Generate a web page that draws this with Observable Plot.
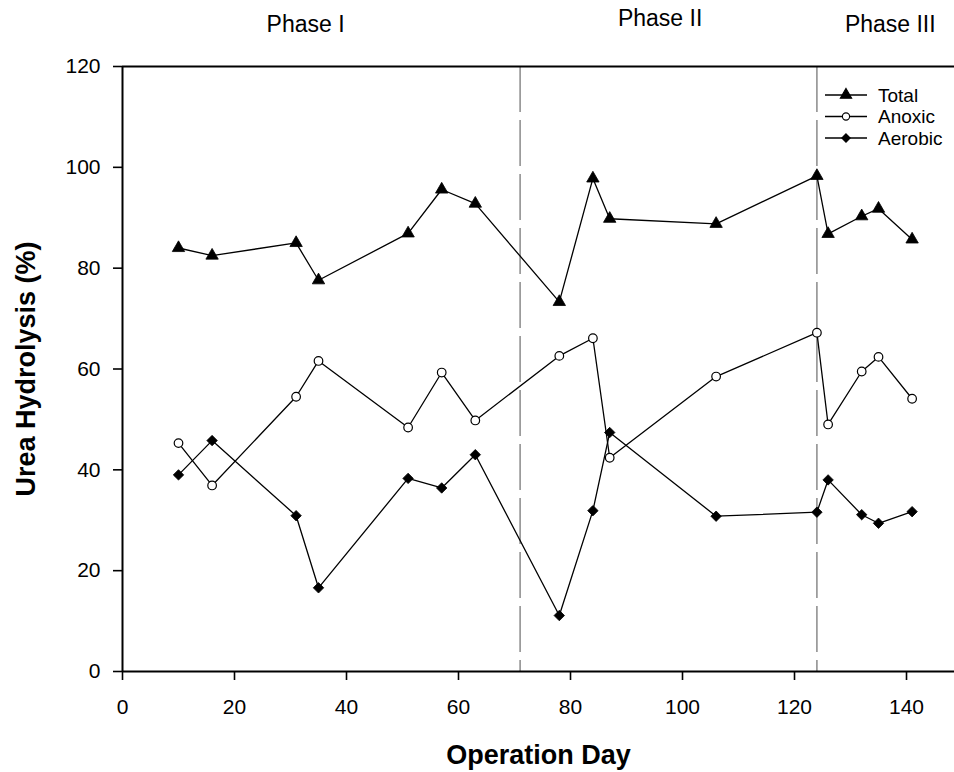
<!DOCTYPE html>
<html>
<head>
<meta charset="utf-8">
<script src="https://cdn.jsdelivr.net/npm/d3@7"></script>
<script src="https://cdn.jsdelivr.net/npm/@observablehq/plot@0.6"></script>
<style>
  html, body { margin: 0; padding: 0; background: #fff; }
  svg { display: block; }
</style>
</head>
<body>
<div id="chart"></div>
<script>
// ---- data ----
const days    = [10, 16, 31, 35, 51, 57, 63, 78, 84, 87, 106, 124, 126, 132, 135, 141];
const total   = [84.0, 82.5, 85.0, 77.6, 86.9, 95.6, 92.8, 73.3, 97.8, 89.8, 88.8, 98.3, 86.8, 90.3, 91.8, 85.7];
const anoxic  = [45.3, 36.9, 54.5, 61.6, 48.4, 59.3, 49.8, 62.6, 66.1, 42.4, 58.5, 67.2, 49.0, 59.5, 62.4, 54.1];
const aerobic = [39.0, 45.8, 30.9, 16.6, 38.3, 36.4, 43.0, 11.1, 31.9, 47.4, 30.8, 31.6, 38.0, 31.1, 29.4, 31.7];
const seriesNames = ["Total", "Anoxic", "Aerobic"];
const phaseBounds = [71, 124];
const phaseNames  = ["Phase I", "Phase II", "Phase III"];
const phaseX      = [32.7, 96.0, 137.1];
const phaseY      = [128.4, 129.5, 128.4];
const xTicks = [0, 20, 40, 60, 80, 100, 120, 140];
const yTicks = [0, 20, 40, 60, 80, 100, 120];

const FONT = "'Liberation Sans', Arial, Helvetica, sans-serif";

const rows = (vals) => days.map((d, i) => ({day: d, v: vals[i]}));
const T = rows(total), A = rows(anoxic), B = rows(aerobic);
const phases = phaseNames.map((n, i) => ({name: n, x: phaseX[i], y: phaseY[i]}));

const plot = Plot.plot({
  width: 954,
  height: 772,
  marginLeft: 122,
  marginRight: 0,
  marginTop: 66,
  marginBottom: 101,
  style: {fontFamily: FONT, color: "#000", background: "#fff", overflow: "visible"},
  x: {domain: [0, 148.57]},
  y: {domain: [0, 120]},
  marks: [
    Plot.ruleX(phaseBounds, {stroke: "#8a8a8a", strokeWidth: 1.5, strokeDasharray: "46,8"}),
    Plot.axisX({ticks: xTicks, tickSize: 9, tickPadding: 19, fontSize: 21, strokeWidth: 1.6, label: null, tickFormat: d => d}),
    Plot.axisY({ticks: yTicks, tickSize: 9, tickPadding: 13, fontSize: 21, strokeWidth: 1.6, label: null, tickFormat: d => d}),
    Plot.ruleX([0], {stroke: "#000", strokeWidth: 2}),
    Plot.ruleY([0], {stroke: "#000", strokeWidth: 2}),
    Plot.ruleY([120], {stroke: "#000", strokeWidth: 2}),
    Plot.line(T, {x: "day", y: "v", stroke: "#000", strokeWidth: 1.3}),
    Plot.line(A, {x: "day", y: "v", stroke: "#000", strokeWidth: 1.3}),
    Plot.line(B, {x: "day", y: "v", stroke: "#000", strokeWidth: 1.3}),
    Plot.dot(T, {x: "day", y: "v", symbol: "triangle", r: 4.6, fill: "#000", stroke: "#000", strokeWidth: 0.8}),
    Plot.dot(A, {x: "day", y: "v", symbol: "circle", r: 4.3, fill: "#fff", stroke: "#000", strokeWidth: 1.2}),
    Plot.dot(B, {x: "day", y: "v", symbol: "diamond2", r: 4.7, fill: "#000", stroke: "#000", strokeWidth: 0.8}),
    Plot.text(phases, {x: "x", y: "y", text: "name", fontSize: 23, fill: "#000", textAnchor: "middle", lineAnchor: "middle"}),
    Plot.text(["Operation Day"], {frameAnchor: "bottom", dy: 84, fontSize: 27, fontWeight: "bold", fill: "#000", textAnchor: "middle", lineAnchor: "middle"}),
    Plot.text(["Urea Hydrolysis (%)"], {frameAnchor: "left", dx: -96, rotate: -90, fontSize: 27, fontWeight: "bold", fill: "#000", textAnchor: "middle", lineAnchor: "middle"})
  ]
});

document.getElementById("chart").appendChild(plot);

// ---- legend (inside plot, top right) ----
const svg = d3.select(plot);
const lg = svg.append("g").attr("font-family", FONT).attr("font-size", 19).attr("text-anchor", "start");
const legendSymbols = [d3.symbolTriangle, d3.symbolCircle, d3.symbolDiamond2];
const legendFill = ["#000", "#fff", "#000"];
const legendSize = [Math.PI * 4.2 * 4.2, Math.PI * 3.6 * 3.6, Math.PI * 3.8 * 3.8];
seriesNames.forEach((name, i) => {
  const y = 95 + i * 21.5;
  lg.append("line").attr("x1", 825).attr("x2", 867).attr("y1", y).attr("y2", y)
    .attr("stroke", "#000").attr("stroke-width", 1.3);
  lg.append("path").attr("d", d3.symbol(legendSymbols[i], legendSize[i])())
    .attr("transform", `translate(846,${y})`)
    .attr("fill", legendFill[i]).attr("stroke", "#000").attr("stroke-width", 1.1);
  lg.append("text").attr("x", 878).attr("y", y).attr("dy", "0.35em").attr("fill", "#000")
    .attr("text-anchor", "start").text(name);
});
</script>
</body>
</html>
